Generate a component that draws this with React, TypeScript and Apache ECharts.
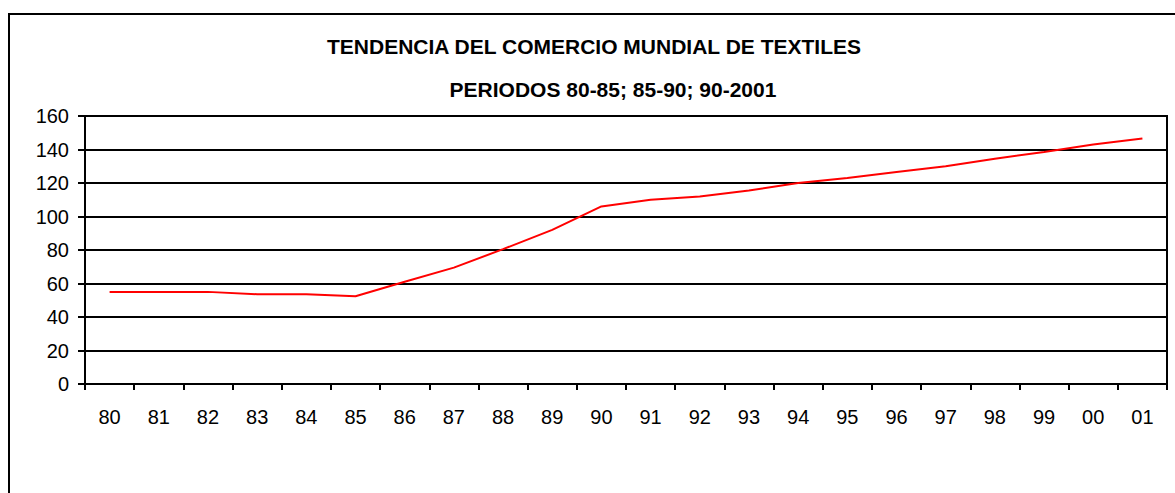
import React, { useEffect, useRef } from "react";
import * as echarts from "echarts";

const titleText = "TENDENCIA DEL COMERCIO MUNDIAL DE TEXTILES";
const subtitleText = "PERIODOS 80-85; 85-90; 90-2001";
const years = ["80","81","82","83","84","85","86","87","88","89","90","91","92","93","94","95","96","97","98","99","00","01"];
const values = [55,55,55,53.6,53.6,52.4,61,69.5,80.5,92,106,110,112,115.5,120,123,126.5,130,134.5,138.5,143,146.5];
const yTicks = { min: 0, max: 160, interval: 20 };

export default function App() {
  const ref = useRef<HTMLDivElement>(null);
  useEffect(() => {
    if (!ref.current) return;
    const chart = echarts.init(ref.current, null, { renderer: "svg" });
    const font = "'Liberation Sans', Arial, sans-serif";
    chart.setOption({
      animation: false,
      backgroundColor: "#ffffff",
      graphic: [
        { type: "rect", shape: { x: 9, y: 14, width: 1190, height: 500 }, style: { fill: "none", stroke: "#000", lineWidth: 2 }, z: 10 },
        { type: "text", x: 594, y: 46, style: { text: titleText, font: `bold 21px ${font}`, fill: "#000", align: "center", verticalAlign: "middle" } },
        { type: "text", x: 613, y: 89, style: { text: subtitleText, font: `bold 21px ${font}`, fill: "#000", align: "center", verticalAlign: "middle" } },
      ],
      grid: { left: 85, top: 116, right: 8, bottom: 109, show: true, borderColor: "#000", borderWidth: 2, backgroundColor: "transparent" },
      xAxis: {
        type: "category",
        data: years,
        boundaryGap: true,
        axisLine: { lineStyle: { color: "#000", width: 2 } },
        axisTick: { show: true, length: 6, lineStyle: { color: "#000", width: 2 } },
        axisLabel: { color: "#000", fontSize: 20, fontFamily: font, margin: 23 },
        splitLine: { show: false },
      },
      yAxis: {
        type: "value",
        min: yTicks.min,
        max: yTicks.max,
        interval: yTicks.interval,
        axisLine: { show: true, lineStyle: { color: "#000", width: 2 } },
        axisTick: { show: true, length: 7, lineStyle: { color: "#000", width: 2 } },
        axisLabel: { color: "#000", fontSize: 20, fontFamily: font, margin: 16 },
        splitLine: { show: true, lineStyle: { color: "#000", width: 2 } },
      },
      series: [
        {
          type: "line",
          data: values,
          showSymbol: false,
          symbol: "none",
          lineStyle: { color: "#ff0000", width: 2 },
          itemStyle: { color: "#ff0000" },
        },
      ],
    });
    return () => chart.dispose();
  }, []);
  return <div ref={ref} style={{ position: "fixed", left: 0, top: 0, width: 1175, height: 493 }} />;
}
